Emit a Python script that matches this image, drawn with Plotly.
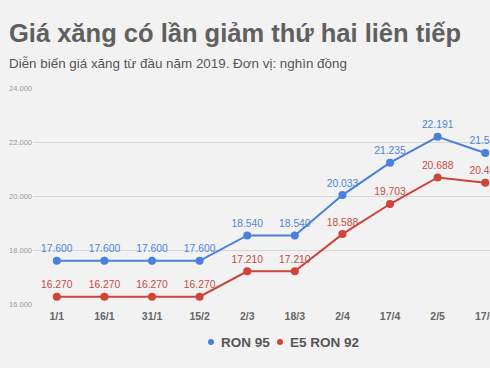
import plotly.graph_objects as go

# ---- data ----
dates = ["1/1", "16/1", "31/1", "15/2", "2/3", "18/3", "2/4", "17/4", "2/5", "17/5"]
ron95 = [17600, 17600, 17600, 17600, 18540, 18540, 20033, 21235, 22191, 21591]
e5_ron92 = [16270, 16270, 16270, 16270, 17210, 17210, 18588, 19703, 20688, 20492]
series_names = ["RON 95", "E5 RON 92"]
y_ticks = [16000, 18000, 20000, 22000, 24000]
y_tick_labels = ["16.000", "18.000", "20.000", "22.000", "24.000"]

BLUE = "#4a80dd"
RED = "#cf4339"
BLUE_TXT = "#4f84d6"
RED_TXT = "#c84a40"
BG = "#f2f2f2"
FONT = "Liberation Sans, Arial"


def fmt(v):
    return f"{v:,}".replace(",", ".")


W, H = 490, 368
L, R, T, B = 33, 0, 88, 64
pw, ph = W - L - R, H - T - B


def px_x(x):
    return (x - L) / pw


def px_y(y):
    return (H - B - y) / ph


fig = go.Figure()

for name, vals, col, tcol in [(series_names[0], ron95, BLUE, BLUE_TXT),
                              (series_names[1], e5_ron92, RED, RED_TXT)]:
    fig.add_trace(go.Scatter(
        x=dates, y=vals, mode="lines+markers+text",
        text=[fmt(v) for v in vals], textposition="top center",
        textfont=dict(family=FONT, size=10.3, color=tcol),
        line=dict(color=col, width=2),
        marker=dict(color=col, size=8),
        showlegend=False, name=name, hoverinfo="skip",
    ))

# legend (dot + label), placed below the plot
shapes = []
annotations = []
for name, col, dot_x, txt_x in [(series_names[0], BLUE, 211, 219), (series_names[1], RED, 280, 288)]:
    shapes.append(dict(type="circle", xref="paper", yref="paper",
                       x0=px_x(dot_x - 3), x1=px_x(dot_x + 3),
                       y0=px_y(342 + 3), y1=px_y(342 - 3),
                       fillcolor=col, line=dict(width=0)))
    annotations.append(dict(text=f"<b>{name}</b>", xref="paper", yref="paper",
                            x=px_x(txt_x), y=px_y(342), xanchor="left", yanchor="middle",
                            showarrow=False,
                            font=dict(family=FONT, size=13.5, color="#555")))

annotations += [
    dict(text="<b>Giá xăng có lần giảm thứ hai liên tiếp</b>", xref="paper", yref="paper",
         x=px_x(7), y=px_y(33), xanchor="left", yanchor="middle", showarrow=False,
         font=dict(family=FONT, size=25.5, color="#606060")),
    dict(text="Diễn biến giá xăng từ đầu năm 2019. Đơn vị: nghìn đồng", xref="paper", yref="paper",
         x=px_x(7), y=px_y(63.5), xanchor="left", yanchor="middle", showarrow=False,
         font=dict(family=FONT, size=13.4, color="#555")),
]

fig.update_layout(
    width=W, height=H,
    margin=dict(l=L, r=R, t=T, b=B, autoexpand=False),
    paper_bgcolor=BG, plot_bgcolor=BG,
    font=dict(family=FONT, color="#666"),
    xaxis=dict(
        type="category", range=[-0.5, 9.1], showgrid=False, zeroline=False,
        showline=False, ticks="", automargin=False, ticklabelstandoff=4,
        tickfont=dict(family=FONT, size=10.5, color="#666", weight="bold"),
    ),
    yaxis=dict(
        range=[16000, 24000], tickvals=y_ticks, ticktext=y_tick_labels,
        showgrid=True, gridcolor="#d6d6d6", gridwidth=1, zeroline=False,
        showline=False, ticks="", automargin=False,
        tickfont=dict(family=FONT, size=7.5, color="#999"),
    ),
    showlegend=False,
    shapes=shapes,
    annotations=annotations,
)

fig.write_html("out.html", config={"displayModeBar": False},
               post_script="document.body.style.margin='0';document.body.style.overflow='hidden';")
